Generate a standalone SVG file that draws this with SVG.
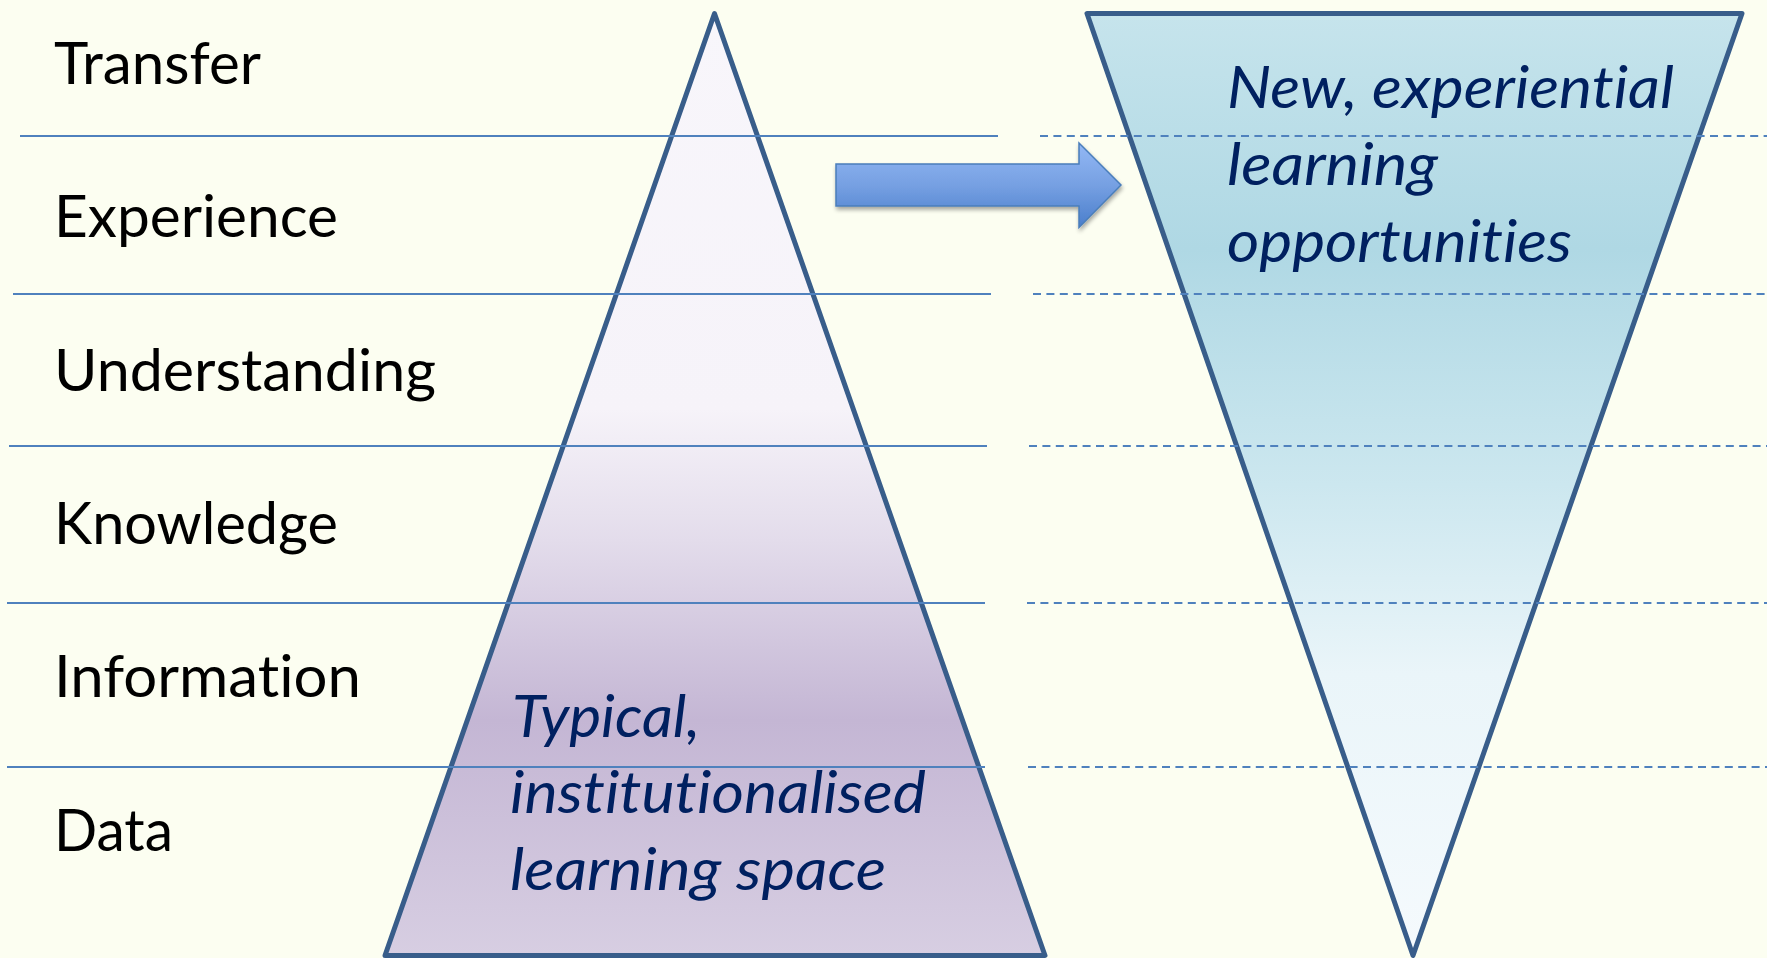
<svg xmlns="http://www.w3.org/2000/svg" width="1767" height="958" viewBox="0 0 1767 958">
<defs>
<linearGradient id="gLeft" gradientUnits="userSpaceOnUse" x1="0" y1="13" x2="0" y2="956">
<stop offset="0" stop-color="#F8F6FB"/>
<stop offset="0.42" stop-color="#F6F3F9"/>
<stop offset="0.56" stop-color="#E3DCEB"/>
<stop offset="0.75" stop-color="#C4B6D4"/>
<stop offset="1" stop-color="#D7CEE2"/>
</linearGradient>
<linearGradient id="gRight" gradientUnits="userSpaceOnUse" x1="0" y1="13" x2="0" y2="956">
<stop offset="0" stop-color="#C6E4EC"/>
<stop offset="0.25" stop-color="#AFD8E4"/>
<stop offset="0.5" stop-color="#CCE7EF"/>
<stop offset="0.7" stop-color="#EAF5F9"/>
<stop offset="1" stop-color="#F5FAFD"/>
</linearGradient>
<linearGradient id="gArrow" x1="0" y1="0" x2="0" y2="1">
<stop offset="0" stop-color="#93B8F5"/>
<stop offset="0.5" stop-color="#76A0E2"/>
<stop offset="1" stop-color="#4A7ECC"/>
</linearGradient>
<filter id="shadow" x="-10%" y="-20%" width="120%" height="150%">
<feGaussianBlur in="SourceAlpha" stdDeviation="2"/>
<feOffset dx="1" dy="3" result="b"/>
<feComponentTransfer><feFuncA type="linear" slope="0.35"/></feComponentTransfer>
<feMerge><feMergeNode/><feMergeNode in="SourceGraphic"/></feMerge>
</filter>
</defs>
<style>
.lbl{font-family:Lato,"Open Sans","Liberation Sans",sans-serif;font-size:58px;fill:#000000;font-variant-ligatures:none}
.it{font-family:Lato,"Open Sans","Liberation Sans",sans-serif;font-size:58px;font-style:italic;fill:#002060;font-variant-ligatures:none}
.solid{stroke:#4F81BD;stroke-width:2;fill:none}
.dash{stroke:#4F81BD;stroke-width:2;fill:none;stroke-dasharray:8 5.4}
.tri{stroke:#385D8A;stroke-width:5;stroke-linejoin:round}
</style>
<rect x="0" y="0" width="1767" height="958" fill="#FCFEF1"/>

<g id="left-pyramid">
<polygon class="tri" points="714.5,13.5 1045,955.5 385,955.5" fill="url(#gLeft)"/>
</g>
<g id="right-funnel">
<polygon class="tri" points="1087,13.5 1742,13.5 1413,955.5" fill="url(#gRight)"/>
</g>

<g id="connectors">
<line class="solid" x1="20" y1="136" x2="998" y2="136"/>
<line class="solid" x1="13" y1="294" x2="991" y2="294"/>
<line class="solid" x1="9" y1="446" x2="987" y2="446"/>
<line class="solid" x1="7" y1="603" x2="985" y2="603"/>
<line class="solid" x1="7" y1="767" x2="985" y2="767"/>
<line class="dash" x1="1040" y1="136" x2="1767" y2="136"/>
<line class="dash" x1="1033" y1="294" x2="1767" y2="294"/>
<line class="dash" x1="1029" y1="446" x2="1767" y2="446"/>
<line class="dash" x1="1027" y1="603" x2="1767" y2="603"/>
<line class="dash" x1="1028" y1="767" x2="1767" y2="767"/>
</g>

<g id="arrow">
<polygon points="836,164 1079,164 1079,143 1121,185 1079,227.5 1079,206 836,206" fill="url(#gArrow)" stroke="#4A7EBB" stroke-width="1.5" filter="url(#shadow)"/>
</g>

<g id="labels">
<text class="lbl" x="54" y="84" textLength="207" lengthAdjust="spacingAndGlyphs">Transfer</text>
<text class="lbl" x="54" y="237" textLength="284" lengthAdjust="spacingAndGlyphs">Experience</text>
<text class="lbl" x="54" y="391" textLength="382" lengthAdjust="spacingAndGlyphs">Understanding</text>
<text class="lbl" x="54" y="544" textLength="284" lengthAdjust="spacingAndGlyphs">Knowledge</text>
<text class="lbl" x="54" y="697" textLength="307" lengthAdjust="spacingAndGlyphs">Information</text>
<text class="lbl" x="54" y="851" textLength="119" lengthAdjust="spacingAndGlyphs">Data</text>
</g>

<g id="left-text">
<text class="it" x="512" y="737" textLength="188" lengthAdjust="spacingAndGlyphs">Typical,</text>
<text class="it" x="510" y="813" textLength="416" lengthAdjust="spacingAndGlyphs">institutionalised</text>
<text class="it" x="510" y="890" textLength="376" lengthAdjust="spacingAndGlyphs">learning space</text>
</g>

<g id="right-text">
<text class="it" x="1227" y="108" textLength="447" lengthAdjust="spacingAndGlyphs">New, experiential</text>
<text class="it" x="1227" y="185" textLength="211" lengthAdjust="spacingAndGlyphs">learning</text>
<text class="it" x="1227" y="262" textLength="345" lengthAdjust="spacingAndGlyphs">opportunities</text>
</g>
</svg>
